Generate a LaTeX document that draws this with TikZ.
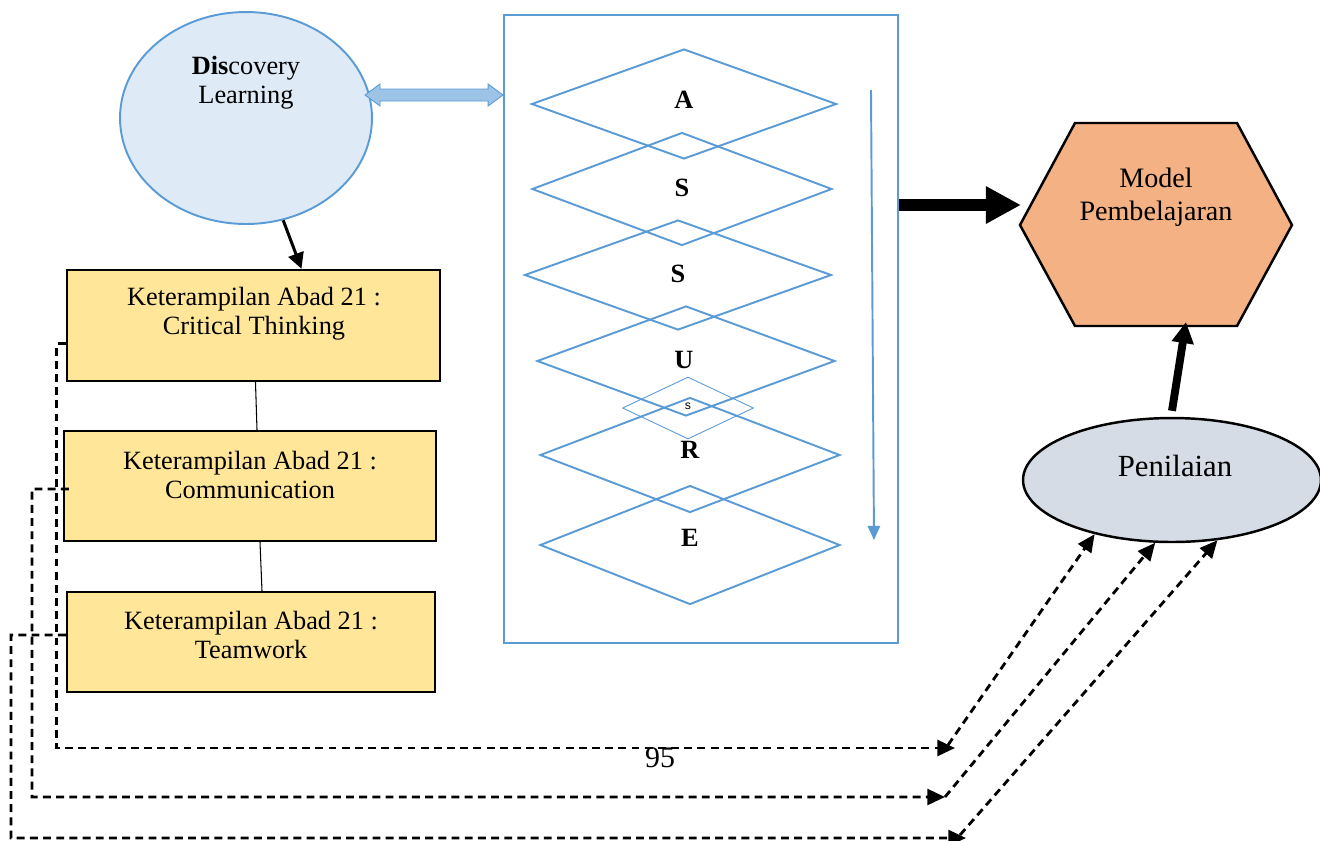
\documentclass[tikz,border=0pt]{standalone}
\usepackage{fontspec}
\setmainfont{Liberation Serif}
\newfontfamily\smallsans{Liberation Sans}
\usepackage{tikz}
\usetikzlibrary{arrows.meta,shapes.geometric,calc}
\definecolor{lineblue}{HTML}{5B9BD5}
\definecolor{paleblue}{HTML}{DEEBF7}
\definecolor{arrowblue}{HTML}{9DC3E6}
\definecolor{skillyellow}{HTML}{FFE699}
\definecolor{modelorange}{HTML}{F4B183}
\definecolor{gradegray}{HTML}{D6DCE5}
\tikzset{
    bodytext/.style={align=center,inner sep=0pt,font=\fontsize{15}{16.5}\selectfont},
    skillbox/.style={rectangle,draw=black,line width=1.4pt,fill=skillyellow,inner sep=0pt},
    stepdiamond/.style={diamond,draw=lineblue,line width=1.1pt,inner sep=0pt,minimum width=6.1cm,minimum height=2.2cm},
    steplabel/.style={inner sep=0pt,font=\fontsize{15}{16}\selectfont\bfseries},
    backline/.style={line width=1.6pt,dash pattern=on 4.5pt off 3pt,-{Triangle[length=10pt,width=9pt]}},
    bigarrow/.style={line width=6.8pt,-{Triangle[length=20pt,width=20pt]}},
    midarrow/.style={line width=4.5pt,-{Triangle[length=12pt,width=12pt]}},
    smallarrow/.style={line width=1.7pt,-{Triangle[length=9pt,width=9pt]}}
}

\begin{document}
\begin{tikzpicture}[x=0.02cm,y=-0.02cm]
\useasboundingbox (0,0) rectangle (1320,840);

\node[ellipse,draw=lineblue,line width=1.1pt,fill=paleblue,minimum width=5.04cm,minimum height=4.24cm] (disc) at (246,118) {};
\node[bodytext] (disctext) at (246,83) {\textbf{Dis}covery\\Learning};

\node[rectangle,draw=lineblue,line width=1.1pt,minimum width=7.88cm,minimum height=12.56cm] (frame) at (701,329) {};
\coordinate (linkL) at (365,95);
\coordinate (linkR) at (frame.west |- linkL);
\draw[draw=lineblue,line width=0.5pt,fill=arrowblue]
    (linkL) -- ++(15,-11) -- ++(0,5) -- ($(linkR)+(-15,-6)$) -- ++(0,-5) -- (linkR)
    -- ++(-15,11) -- ++(0,-5) -- ($(linkL)+(15,6)$) -- ++(0,5) -- cycle;

\node[stepdiamond] (dA) at (684,104) {};
\node[stepdiamond,minimum width=6cm,minimum height=2.26cm] (dS1) at (682,189) {};
\node[stepdiamond,minimum width=6.14cm] (dS2) at (678,275) {};
\node[stepdiamond,minimum width=5.96cm] (dU) at (686,361) {};
\node[stepdiamond,minimum width=6cm,minimum height=2.3cm] (dR) at (690,455) {};
\node[stepdiamond,minimum width=6cm,minimum height=2.38cm] (dE) at (690,545) {};
\node[diamond,draw=lineblue,line width=0.5pt,inner sep=0pt,minimum width=2.62cm,minimum height=1.24cm] (ds) at (688,408) {};

\node[steplabel] (lA) at (684,100) {A};
\node[steplabel] (lS1) at (682,188) {S};
\node[steplabel] (lS2) at (678,274) {S};
\node[steplabel] (lU) at (684,360) {U};
\node[font=\smallsans\fontsize{7}{8}\selectfont,inner sep=0pt] (ls) at (688,406) {s};
\node[steplabel] (lR) at (690,450) {R};
\node[steplabel] (lE) at (690,538) {E};

\coordinate (flowtop) at (871,90);
\coordinate (flowend) at (874,540);
\draw[draw=lineblue,line width=1.1pt,-{Triangle[length=8pt,width=7pt]}] (flowtop) -- (flowend);

\coordinate (hexW) at (1020,225);
\coordinate (hexNW) at (1075,123);
\coordinate (hexNE) at (1237,123);
\coordinate (hexE) at (1292,225);
\coordinate (hexSE) at (1237,326);
\coordinate (hexSW) at (1075,326);
\draw[line width=1.4pt,fill=modelorange] (hexW) -- (hexNW) -- (hexNE) -- (hexE) -- (hexSE) -- (hexSW) -- cycle;
\node[bodytext,font=\fontsize{16}{18.7}\selectfont] (model) at (1156,197) {Model\\Pembelajaran};

\node[ellipse,draw=black,line width=1.4pt,fill=gradegray,minimum width=5.96cm,minimum height=2.48cm] (grade) at (1172,480) {};
\node[bodytext,font=\fontsize{17.5}{20}\selectfont] (gradetext) at (1175,466) {Penilaian};

\node[skillbox,minimum width=7.46cm,minimum height=2.22cm] (ct) at (253.5,325.5) {};
\node[skillbox,minimum width=7.44cm,minimum height=2.2cm] (cm) at (250,486) {};
\node[skillbox,minimum width=7.36cm,minimum height=2cm] (tw) at (251,642) {};
\node[bodytext] (cttext) at (254,314) {Keterampilan Abad 21 :\\Critical Thinking};
\node[bodytext] (cmtext) at (250,475) {Keterampilan Abad 21 :\\Communication};
\node[bodytext] (twtext) at (251,635) {Keterampilan Abad 21 :\\Teamwork};

\coordinate (hexIn) at (1021,205);
\coordinate (hexUp) at (1186,322);
\draw[bigarrow] (frame.east |- hexIn) -- (hexIn);
\draw[midarrow] ([yshift=0.12cm]grade.north) -- (hexUp);
\draw[smallarrow] (disc.290) -- ([xshift=0.96cm]ct.north);
\draw[line width=0.6pt] ([xshift=0.04cm]ct.south) -- ([xshift=0.14cm]cm.north);
\draw[line width=0.6pt] ([xshift=0.2cm]cm.south) -- ([xshift=0.22cm]tw.north);

\coordinate (j1) at (955,748);
\coordinate (j2) at (945,797);
\coordinate (j3) at (966,838);
\draw[backline] ([yshift=-0.36cm]ct.west) -- ++(-9,0) |- (j1);
\draw[backline] ([xshift=0.12cm,yshift=-0.06cm]cm.west) -- (32,489) |- (j2);
\draw[backline] ([yshift=0.14cm]tw.west) -- (11,635) |- (j3);
\draw[backline] ([xshift=-0.14cm,yshift=0.06cm]j1) -- (grade.215);
\draw[backline] (j2) -- (grade.255);
\draw[backline] ([xshift=-0.12cm,yshift=0.06cm]j3) -- (grade.307);

\node[bodytext,font=\fontsize{17}{19}\selectfont] (pagenum) at (660,758) {95};
\end{tikzpicture}
\end{document}
